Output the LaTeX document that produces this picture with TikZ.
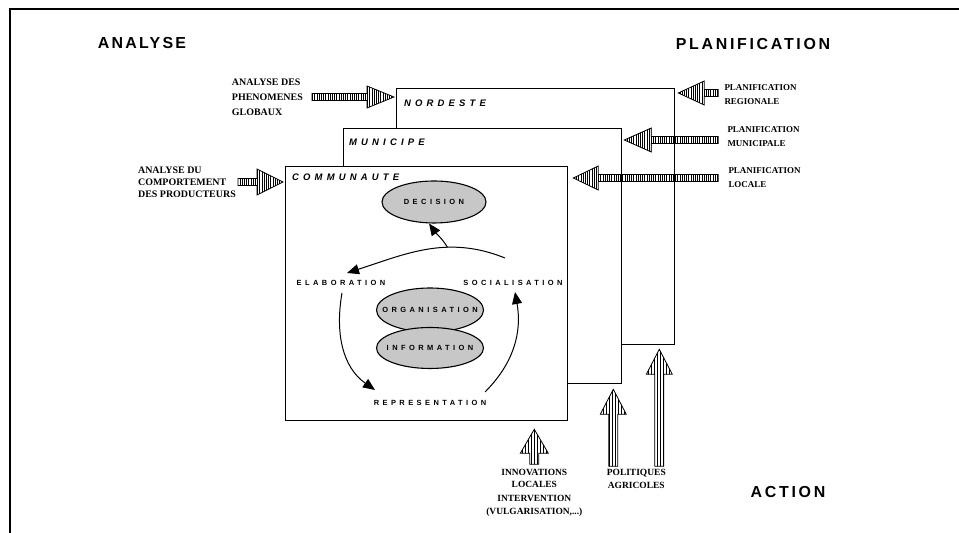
\documentclass[tikz,border=0pt]{standalone}
\usepackage{fontspec}
\setmainfont{Liberation Serif}
\setsansfont{Liberation Sans}
\usetikzlibrary{arrows.meta, positioning, shapes.geometric, calc, patterns.meta}

% striped block arrow: [opts] tail, tip, head length, head half width, shaft half width
\newcommand{\hatcharrow}[6][]{%
  \coordinate (hb) at ($(#3)!#4!(#2)$);
  \draw[hatched,#1] ($(#2)!#6!90:(#3)$) -- ($(hb)!#6!90:(#3)$) -- ($(hb)!#5!90:(#3)$)
    -- (#3) -- ($(hb)!#5!-90:(#3)$) -- ($(hb)!#6!-90:(#3)$) -- ($(#2)!#6!-90:(#3)$) -- cycle;
}

\begin{document}
\begin{tikzpicture}[x=1bp, y=1bp,
    layer/.style={draw, line width=1.3bp, fill=white, inner sep=0pt, anchor=north west},
    boxtitle/.style={font=\fontsize{9.5}{11}\selectfont\sffamily\bfseries\itshape\addfontfeature{LetterSpace=44},
                     inner sep=0pt, anchor=west},
    heading/.style={font=\fontsize{16}{18}\selectfont\sffamily\bfseries\addfontfeature{LetterSpace=14},
                    inner sep=0pt},
    lbl/.style={font=\fontsize{9}{14}\selectfont\bfseries, inner sep=0pt, align=left},
    phase/.style={font=\fontsize{7.5}{9}\selectfont\sffamily\bfseries\addfontfeature{LetterSpace=46},
                  inner sep=0pt},
    blob/.style={ellipse, draw, line width=1.1bp, fill=black!22, minimum width=104bp,
                 minimum height=42bp, inner sep=0pt, phase},
    cyc/.style={-{Triangle[length=12bp, width=10bp]}, line width=1bp},
    hatched/.style={draw, line width=.8bp, fill=white,
                    pattern={Lines[angle=90, distance=2.2bp, line width=.5bp]}}]
  \useasboundingbox (0,0) rectangle (959,533);
  \draw[line width=1.5bp] (10,0) -- (10,524) -- (959,524);

  % headings
  \node[heading] (analyse) at (142,490) {ANALYSE};
  \node[heading, font=\fontsize{16}{18}\selectfont\sffamily\bfseries\addfontfeature{LetterSpace=17}]
    (planif) at (753,489) {PLANIFICATION};
  \node[heading, font=\fontsize{16}{18}\selectfont\sffamily\bfseries\addfontfeature{LetterSpace=17}]
    (action) at (788,41) {ACTION};

  % stacked levels
  \node[layer, minimum width=278bp, minimum height=256bp] (nord) at (396,445) {};
  \node[layer, minimum width=278bp, minimum height=255bp] (muni) at (343,405) {};
  \node[layer, minimum width=282bp, minimum height=254bp] (comm) at (285,367) {};
  \node[boxtitle] (nordname) at ([shift={(8,-15)}]nord.north west) {NORDESTE};
  \node[boxtitle] (muniname) at ([shift={(6,-14)}]muni.north west) {MUNICIPE};
  \node[boxtitle] (commname) at ([shift={(7,-11)}]comm.north west) {COMMUNAUTE};

  % cycle inside the community
  \node[blob] (dec)  at (434,331) {\makebox[0pt]{DECISION}};
  \node[blob, minimum width=107bp, minimum height=44bp] (orga) at (430,223) {\makebox[0pt]{ORGANISATION}};
  \node[blob, minimum width=107bp, minimum height=41bp] (info) at (430,185) {\makebox[0pt]{INFORMATION}};
  \node[phase] (elab)  at (341,250) {ELABORATION};
  \node[phase] (socia) at (513,250) {SOCIALISATION};
  \node[phase] (repr)  at (430,130) {REPRESENTATION};

  \draw[cyc] ([shift={(-8,25)}]socia.center) to[out=158, in=18]
    coordinate[pos=.36] (peak) ([shift={(6,10)}]elab.center);
  \draw[cyc] (peak) to[out=122, in=-55] (dec.-103);
  \draw[cyc] ([shift={(1,-10)}]elab.center) to[out=-100, in=145] ([shift={(-55,13)}]repr.center);
  \draw[cyc] ([shift={(55,11)}]repr.center) to[out=45, in=-80] ([shift={(2,-9)}]socia.center);

  % analysis inputs
  \coordinate (globtip) at ([shift={(-2,-9)}]nord.north west);
  \coordinate (globtail) at ([xshift=-82bp]globtip);
  \coordinate (comptip) at ([shift={(-2,-16)}]comm.north west);
  \coordinate (comptail) at ([xshift=-45bp]comptip);
  \node[lbl, left=9bp of globtail, font=\fontsize{10}{15}\selectfont\bfseries] (glob)
    {ANALYSE DES\\PHENOMENES\\GLOBAUX};
  \node[lbl, left=2bp of comptail, font=\fontsize{10}{12}\selectfont\bfseries] (comp)
    {ANALYSE DU\\COMPORTEMENT\\DES PRODUCTEURS};
  \hatcharrow{globtail}{globtip}{27bp}{11bp}{3.5bp}
  \hatcharrow{comptail}{comptip}{26bp}{13bp}{3.5bp}

  % planning inputs
  \coordinate (regtip) at ([shift={(3,-5)}]nord.north east);
  \coordinate (regtail) at ([xshift=40bp]regtip);
  \coordinate (muntip) at ([shift={(2,-12)}]muni.north east);
  \coordinate (muntail) at ([xshift=94bp]muntip);
  \coordinate (loctip) at ([shift={(5,-12)}]comm.north east);
  \coordinate (loctail) at ([xshift=145bp]loctip);
  \node[lbl, right=6bp of regtail, yshift=-2bp] (reg) {PLANIFICATION\\REGIONALE};
  \node[lbl, right=9bp of muntail, yshift=3bp] (mun) {PLANIFICATION\\MUNICIPALE};
  \node[lbl, right=10bp of loctail] (loc) {PLANIFICATION\\LOCALE};
  \hatcharrow{regtail}{regtip}{26bp}{12bp}{3.5bp}
  \hatcharrow{muntail}{muntip}{27bp}{12bp}{3.5bp}
  \hatcharrow{loctail}{loctip}{25bp}{12bp}{3.5bp}

  % action inputs
  \coordinate (comtip) at ([shift={(-34,-8)}]comm.south east);
  \coordinate (comtail) at ([yshift=-35bp]comtip);
  \coordinate (munitip) at ([shift={(-9,-5)}]muni.south east);
  \coordinate (munitail) at ([yshift=-77bp]munitip);
  \coordinate (nordtip) at ([shift={(-16,-4)}]nord.south east);
  \coordinate (nordtail) at ([yshift=-117bp]nordtip);
  \hatcharrow[pattern={Lines[angle=90, distance=3bp, line width=.5bp]}]{comtail}{comtip}{24bp}{14bp}{4.5bp}
  \hatcharrow[pattern={Lines[angle=90, distance=3bp, line width=.5bp]}]{munitail}{munitip}{25bp}{13bp}{4.5bp}
  \hatcharrow[pattern={Lines[angle=90, distance=3bp, line width=.5bp]}]{nordtail}{nordtip}{25bp}{13bp}{4.5bp}
  \node[lbl, align=center, below=5bp of comtail, font=\fontsize{9.5}{11.5}\selectfont\bfseries] (innov)
    {INNOVATIONS\\LOCALES};
  \node[lbl, align=center, below=8bp of innov, font=\fontsize{9.5}{13}\selectfont\bfseries] (interv)
    {INTERVENTION\\(VULGARISATION,...)};
  \node[lbl, align=center, below=3bp of {$(munitail)!.5!(nordtail)$}, font=\fontsize{9.5}{12.5}\selectfont\bfseries]
    (polit) {POLITIQUES\\AGRICOLES};
\end{tikzpicture}
\end{document}
